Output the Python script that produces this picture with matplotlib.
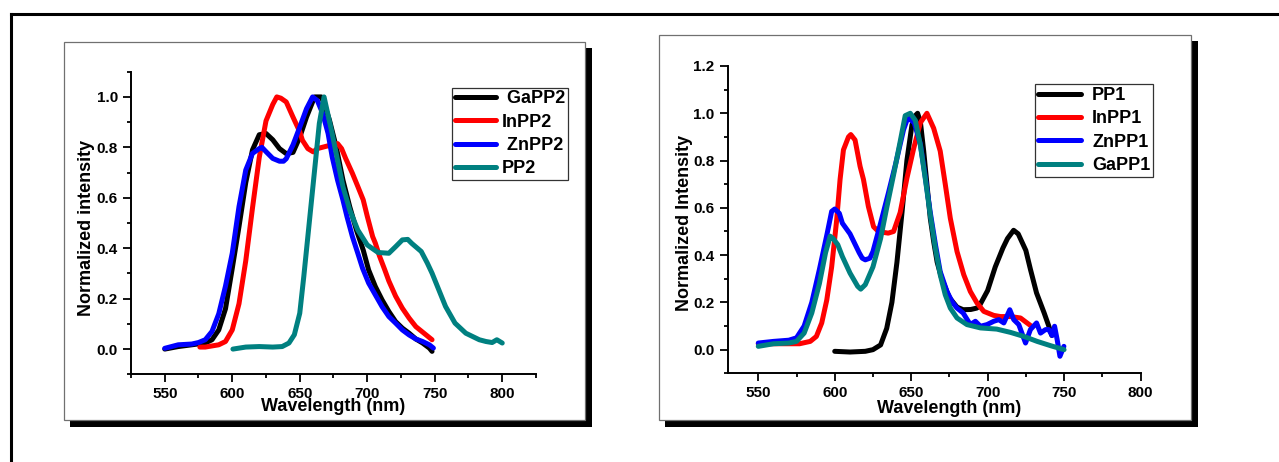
import matplotlib
matplotlib.use("Agg")
import matplotlib.pyplot as plt
from matplotlib.patches import Rectangle
from matplotlib.lines import Line2D
from matplotlib.ticker import MultipleLocator, FormatStrFormatter

W, H, DPI = 1279, 462, 100

# ---------------- left panel: PP2 series ----------------
gapp2_wl = [550, 560, 570, 580, 585, 590, 595, 600, 605, 610, 615, 620, 625, 630,
            635, 640, 645, 650, 655, 661, 666, 668, 672, 677, 682, 687, 692, 697,
            701, 706, 711, 716, 721, 726, 731, 736, 741, 746, 748]
gapp2_int = [0.0, 0.01, 0.017, 0.024, 0.037, 0.076, 0.16, 0.32, 0.486, 0.66, 0.79,
             0.85, 0.855, 0.83, 0.795, 0.775, 0.78, 0.84, 0.92, 1.0, 1.0, 0.974,
             0.908, 0.802, 0.67, 0.565, 0.472, 0.393, 0.314, 0.248, 0.195, 0.149,
             0.109, 0.083, 0.063, 0.04, 0.024, 0.004, -0.009]

inpp2_wl = [576, 580, 590, 595, 600, 605, 610, 615, 620, 625, 630, 633, 636, 640,
            645, 650, 652, 656, 660, 663, 668, 673, 678, 681, 684, 689, 693, 697,
            700, 704, 706, 709, 713, 716, 721, 726, 731, 736, 742, 748]
inpp2_int = [0.008, 0.008, 0.017, 0.03, 0.076, 0.18, 0.35, 0.56, 0.76, 0.905, 0.97,
             1.0, 0.995, 0.98, 0.92, 0.862, 0.828, 0.795, 0.782, 0.795, 0.802,
             0.809, 0.815, 0.795, 0.756, 0.697, 0.645, 0.592, 0.527, 0.446, 0.42,
             0.37, 0.314, 0.27, 0.21, 0.162, 0.123, 0.089, 0.063, 0.037]

znpp2_wl = [550, 560, 570, 575, 580, 585, 590, 595, 600, 605, 610, 615, 620, 622,
            625, 630, 635, 638, 640, 645, 650, 655, 659.5, 663, 667, 671, 674, 678,
            682, 685, 689, 693, 696.5, 701, 706, 711, 716, 721, 726, 731, 736, 741,
            746, 749]
znpp2_int = [0.003, 0.017, 0.02, 0.026, 0.037, 0.07, 0.14, 0.25, 0.38, 0.565, 0.71,
             0.776, 0.795, 0.8, 0.783, 0.756, 0.745, 0.745, 0.755, 0.81, 0.88,
             0.953, 1.0, 0.986, 0.934, 0.855, 0.763, 0.67, 0.591, 0.525, 0.446,
             0.38, 0.321, 0.262, 0.215, 0.168, 0.129, 0.103, 0.076, 0.056, 0.04,
             0.03, 0.017, 0.004]

pp2_wl = [600.5, 610, 620, 630, 637, 642, 646, 650, 653, 657, 661, 664.5, 668,
          674, 682, 687, 693, 700, 708, 716, 721, 726, 730, 733, 740, 744.5, 748,
          753, 758, 765, 773, 778, 783, 788, 792.5, 796, 800]
pp2_int = [0.0, 0.008, 0.01, 0.008, 0.01, 0.024, 0.057, 0.142, 0.288, 0.499, 0.71,
           0.895, 1.0, 0.855, 0.644, 0.552, 0.472, 0.413, 0.383, 0.38, 0.406,
           0.433, 0.435, 0.419, 0.387, 0.341, 0.301, 0.235, 0.169, 0.103, 0.063,
           0.05, 0.037, 0.03, 0.026, 0.037, 0.024]

# ---------------- right panel: PP1 series ----------------
pp1_wl = [600, 610, 620, 625, 630, 634, 637.4, 640.7, 644, 647.2, 650.5, 652.7,
          654.2, 656, 658.2, 660.3, 662.5, 664.7, 667, 670, 675, 680, 684, 689,
          693, 695, 700, 705, 710, 713, 717, 720, 725, 728, 732, 737, 740, 742]
pp1_int = [-0.007, -0.01, -0.007, 0.0, 0.02, 0.09, 0.2, 0.37, 0.58, 0.8, 0.95, 0.99,
           1.0, 0.965, 0.84, 0.7, 0.556, 0.458, 0.37, 0.3, 0.22, 0.18, 0.169, 0.17,
           0.176, 0.19, 0.25, 0.35, 0.43, 0.47, 0.505, 0.49, 0.42, 0.34, 0.24,
           0.155, 0.1, 0.06]

inpp1_wl = [550, 560, 570, 577, 584, 588, 591.5, 594.8, 598, 601.3, 603.5, 605.7,
            609, 610.5, 613.3, 616.6, 618.8, 622, 625.4, 628.6, 632, 635, 638.5,
            642.8, 647.2, 651.6, 656, 660.3, 664.7, 669, 672.3, 675.6, 680, 684.4,
            688.7, 693.1, 697.5, 704, 708.4, 715, 721.5, 725.8, 728.5]
inpp1_int = [0.025, 0.025, 0.025, 0.025, 0.035, 0.056, 0.113, 0.21, 0.35, 0.55,
             0.72, 0.845, 0.9, 0.91, 0.887, 0.775, 0.72, 0.606, 0.52, 0.5, 0.496,
             0.493, 0.5, 0.58, 0.725, 0.85, 0.96, 1.0, 0.937, 0.84, 0.7, 0.556,
             0.415, 0.317, 0.246, 0.197, 0.162, 0.145, 0.14, 0.14, 0.134, 0.113,
             0.1]

znpp1_wl = [550, 560, 570, 575, 580, 585, 590, 595, 598, 600, 603, 605, 610, 613,
            616, 618, 620, 623, 625, 630, 635, 640, 645, 648, 650, 652, 656, 659,
            662.5, 666, 669, 673.4, 677, 680, 684, 688.7, 692, 695.3, 699.6, 704,
            707.3, 710.6, 714.5, 717.1, 720.4, 724.8, 728, 732, 734.6, 737.9, 740,
            742.2, 743.8, 745.5, 747.3, 749.9]
znpp1_int = [0.028, 0.035, 0.04, 0.05, 0.1, 0.2, 0.34, 0.49, 0.585, 0.595, 0.577,
             0.535, 0.49, 0.45, 0.41, 0.387, 0.38, 0.387, 0.415, 0.535, 0.66, 0.79,
             0.93, 0.985, 0.97, 0.96, 0.87, 0.74, 0.58, 0.44, 0.33, 0.246, 0.2,
             0.176, 0.155, 0.106, 0.12, 0.099, 0.106, 0.12, 0.127, 0.113, 0.169,
             0.127, 0.106, 0.028, 0.085, 0.113, 0.07, 0.085, 0.085, 0.06, 0.099,
             0.042, -0.028, 0.014]

gapp1_wl = [550, 560, 570, 575, 580, 585, 590, 594, 597, 599, 602, 605, 610, 615,
            617, 620, 625, 630, 634, 638.5, 642.8, 646.1, 649.4, 652.7, 656, 659.2,
            662.5, 665.8, 669, 672.3, 675.6, 680, 686.5, 695.3, 706, 715, 723.7,
            732.4, 741.1, 750]
gapp1_int = [0.014, 0.025, 0.028, 0.035, 0.07, 0.155, 0.28, 0.41, 0.48, 0.47, 0.444,
             0.394, 0.324, 0.268, 0.256, 0.275, 0.35, 0.47, 0.6, 0.74, 0.88, 0.99,
             1.0, 0.97, 0.866, 0.725, 0.57, 0.43, 0.317, 0.232, 0.176, 0.134,
             0.106, 0.092, 0.087, 0.073, 0.056, 0.035, 0.017, 0.0]

left_series = [(gapp2_wl, gapp2_int, " GaPP2", "black"),
               (inpp2_wl, inpp2_int, "InPP2", "#ff0000"),
               (znpp2_wl, znpp2_int, " ZnPP2", "#0000ff"),
               (pp2_wl, pp2_int, "PP2", "#008080")]
right_series = [(pp1_wl, pp1_int, "PP1", "black"),
                (inpp1_wl, inpp1_int, "InPP1", "#ff0000"),
                (znpp1_wl, znpp1_int, "ZnPP1", "#0000ff"),
                (gapp1_wl, gapp1_int, "GaPP1", "#008080")]

plt.rcParams["font.family"] = ["Liberation Sans", "DejaVu Sans"]
plt.rcParams["font.weight"] = "bold"

fig = plt.figure(figsize=(W / DPI, H / DPI), dpi=DPI)
fig.patch.set_facecolor("white")


def fx(x):
    return x / W


def fy(y):
    return 1 - y / H


def page_box(x0, y0, x1, y1, **kw):
    fig.add_artist(Rectangle((fx(x0), fy(y1)), fx(x1) - fx(x0), fy(y0) - fy(y1),
                             transform=fig.transFigure, **kw))


# outer border of the page
fig.add_artist(Line2D([fx(10.5), fx(1300)], [fy(13.5), fy(13.5)], color="black",
                      lw=2.2, transform=fig.transFigure, zorder=-5))
fig.add_artist(Line2D([fx(10.5), fx(10.5)], [fy(13.5), fy(480)], color="black",
                      lw=2.2, transform=fig.transFigure, zorder=-5))

# graph pages with drop shadows
for (x0, y0, x1, y1) in [(63.5, 42, 585, 420), (659, 35, 1191, 420)]:
    page_box(x0 + 6, y0 + 6, x1 + 7, y1 + 7, facecolor="black", edgecolor="none",
             zorder=-4)
    page_box(x0, y0, x1, y1, facecolor="white", edgecolor="#707070", lw=0.9,
             zorder=-3)


def make_axes(px_left, px_top, px_right, px_bottom):
    ax = fig.add_axes([fx(px_left), fy(px_bottom), fx(px_right) - fx(px_left),
                       fy(px_top) - fy(px_bottom)])
    ax.set_facecolor("none")
    return ax


def style(ax, xlim, ylim):
    ax.set_xlim(*xlim)
    ax.set_ylim(*ylim)
    for s in ("top", "right"):
        ax.spines[s].set_visible(False)
    for s in ("left", "bottom"):
        ax.spines[s].set_linewidth(1.4)
    ax.xaxis.set_major_locator(MultipleLocator(50))
    ax.xaxis.set_minor_locator(MultipleLocator(25))
    ax.yaxis.set_major_locator(MultipleLocator(0.2))
    ax.yaxis.set_minor_locator(MultipleLocator(0.1))
    ax.yaxis.set_major_formatter(FormatStrFormatter("%.1f"))
    ax.xaxis.set_major_formatter(FormatStrFormatter("%d"))
    ax.tick_params(which="both", direction="out", width=1.3, labelsize=11, pad=4)
    ax.tick_params(which="major", length=5.5)
    ax.tick_params(which="minor", length=3)


def bold_ticklabels(ax):
    for t in ax.xaxis.get_major_ticks() + ax.yaxis.get_major_ticks():
        t.label1.set_fontweight("bold")


def draw(ax, series):
    for wl, inten, name, col in series:
        ax.plot(wl, inten, color=col, lw=3.6, label=name, solid_joinstyle="round",
                solid_capstyle="round")


label_font = dict(fontsize=13, fontweight="bold")

# left panel
axL = make_axes(131, 71.7, 536, 374.3)
draw(axL, left_series)
style(axL, (525, 825), (-0.1, 1.1))
axL.set_xlabel("Wavelength (nm)", **label_font)
axL.xaxis.set_label_coords(0.5, -0.078)
axL.set_ylabel("Normalized intensity", **label_font)
axL.yaxis.set_label_coords(-0.088, 0.485)
legL = axL.legend(loc="upper left", bbox_to_anchor=(0.793, 0.947), borderaxespad=0,
                  frameon=True, fancybox=False, edgecolor="black",
                  prop=dict(size=13, weight="bold"), handlelength=2.3,
                  handletextpad=0.3, borderpad=0.15, labelspacing=0.35)
legL.get_frame().set_linewidth(0.9)

# right panel
axR = make_axes(727.7, 66, 1140.5, 373.3)
draw(axR, right_series)
style(axR, (530, 800), (-0.1, 1.2))
axR.set_xlabel("Wavelength (nm)", **label_font)
axR.xaxis.set_label_coords(0.537, -0.087)
axR.set_ylabel("Normalized Intensity", **label_font)
axR.yaxis.set_label_coords(-0.084, 0.488)
legR = axR.legend(loc="upper left", bbox_to_anchor=(0.745, 0.94), borderaxespad=0,
                  frameon=True, fancybox=False, edgecolor="black",
                  prop=dict(size=13, weight="bold"), handlelength=2.4,
                  handletextpad=0.6, borderpad=0.15, labelspacing=0.35)
legR.get_frame().set_linewidth(0.9)

fig.canvas.draw()
bold_ticklabels(axL)
bold_ticklabels(axR)

fig.savefig("out.png", dpi=DPI, facecolor="white")
